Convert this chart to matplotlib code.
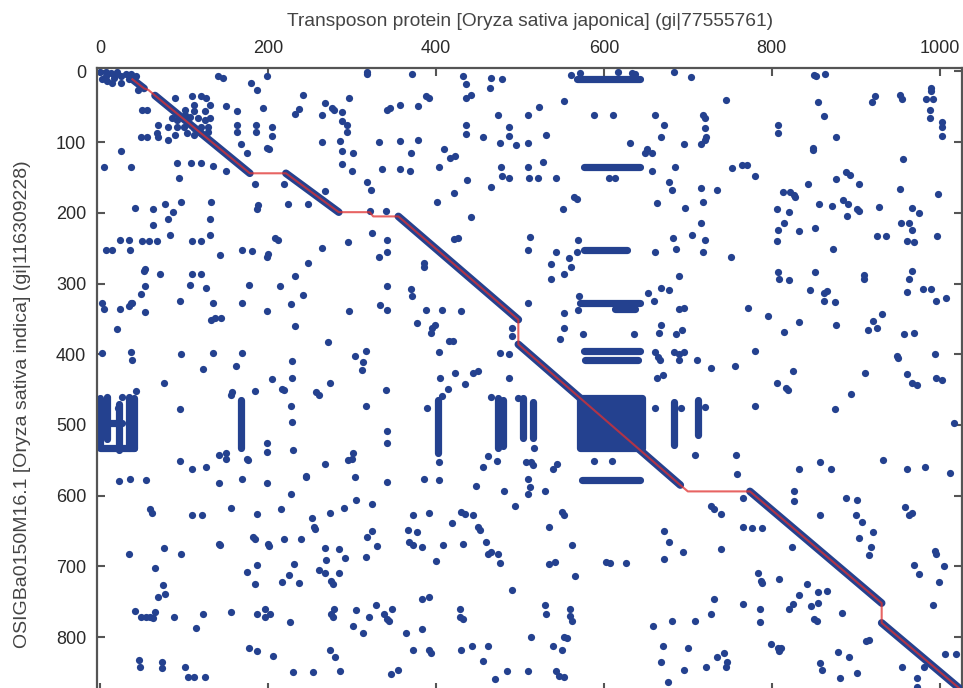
import matplotlib.pyplot as plt

# alignment path (red line), positions in residues
path_x = [38, 52, 57, 65, 178, 221, 284, 321, 325, 355, 498, 498, 691, 700, 774, 931, 931, 1024]
path_y = [11, 24, 26, 34, 144, 144, 199, 199, 205, 205, 351, 386, 585, 594, 594, 752, 780, 873]

# diagonal match stretches under the path: (x1, y1, x2, y2)
diag_runs = [(38, 11, 52, 24), (65, 34, 178, 144), (221, 144, 284, 199), (355, 205, 498, 351),
             (498, 386, 691, 585), (774, 594, 931, 752), (931, 780, 1024, 873)]

# dense repeat runs: horizontal (x1, x2, y) and vertical (x, y1, y2)
h_runs = [(568, 643, 11), (576, 643, 135), (576, 627, 253), (572, 643, 327), (613, 637, 336),
          (576, 643, 396), (578, 641, 408), (574, 643, 578), (0, 40, 533), (0, 26, 497)]
v_runs = [(0, 462, 530), (8, 462, 520), (22, 470, 535), (34, 460, 533), (40, 462, 533),
          (168, 465, 533), (402, 465, 540), (474, 462, 533), (480, 465, 530), (503, 462, 519),
          (516, 467, 519), (684, 467, 529), (712, 465, 514)]
block = (572, 645, 462, 533)

dots_a = [(0, 1), (6, 1), (12, 2), (18, 4), (24, 7), (30, 4), (36, 4), (42, 7), (2, 11), (8, 14), (14, 16),
          (24, 16), (34, 11), (40, 9), (20, 1), (16, 9), (6, 7), (140, 7), (146, 9), (179, 16), (187, 26),
          (198, 7), (241, 33), (45, 26), (89, 37), (109, 35), (120, 35), (126, 37), (111, 47), (130, 47),
          (149, 49), (50, 54), (56, 54), (101, 54), (112, 56), (124, 56), (85, 66), (91, 68), (101, 61),
          (107, 64), (116, 66), (124, 68), (130, 66), (69, 75), (81, 78), (91, 78), (99, 78), (111, 80),
          (120, 78), (128, 78), (67, 87), (89, 90), (103, 87), (112, 90), (120, 87), (128, 85), (69, 92),
          (81, 97), (48, 92), (56, 92), (163, 56), (194, 52), (232, 60), (236, 53), (163, 75), (163, 85),
          (185, 75), (185, 86), (204, 79), (204, 91), (167, 102), (198, 108), (201, 110), (175, 116),
          (24, 113), (4, 135), (36, 135), (91, 130), (108, 129), (120, 129), (134, 133), (149, 141),
          (93, 151), (184, 159), (219, 159), (223, 188), (247, 188), (41, 193), (63, 195), (77, 188),
          (87, 199), (96, 185), (132, 185), (188, 189), (186, 195), (81, 208), (131, 208), (62, 217),
          (83, 231), (130, 231), (23, 238), (34, 238), (50, 240), (58, 240), (67, 240), (109, 240),
          (120, 240), (208, 236), (212, 239), (6, 252), (14, 252), (35, 252), (143, 259), (169, 253),
          (180, 254), (200, 258), (198, 263), (247, 271), (53, 280)]

dots_b = [(318, 1), (318, 4), (371, 4), (432, 7), (436, 18), (466, 9), (478, 11), (464, 23), (296, 37),
          (268, 44), (276, 52), (278, 54), (288, 58), (264, 61), (288, 70), (294, 75), (294, 86), (341, 54),
          (345, 52), (357, 48), (379, 49), (388, 35), (392, 38), (436, 38), (442, 33), (436, 76), (436, 89),
          (456, 93), (474, 62), (487, 79), (487, 91), (476, 101), (495, 104), (264, 100), (286, 99),
          (288, 112), (301, 116), (332, 100), (357, 98), (379, 97), (370, 116), (409, 109), (417, 122),
          (423, 120), (288, 131), (300, 141), (335, 138), (357, 138), (369, 141), (403, 135), (437, 154),
          (477, 135), (479, 148), (487, 150), (466, 163), (268, 169), (318, 157), (322, 168), (401, 185),
          (421, 172), (321, 197), (340, 198), (441, 206), (324, 229), (342, 239), (342, 256), (332, 263),
          (295, 241), (264, 250), (421, 237), (426, 236), (386, 271), (386, 277)]

dots_c = [(561, 5), (572, 2), (617, 1), (633, 2), (637, 4), (684, 1), (704, 8), (523, 50), (552, 42),
          (509, 62), (588, 62), (611, 62), (661, 62), (671, 75), (718, 62), (721, 66), (721, 80), (722, 92),
          (720, 97), (716, 103), (745, 40), (531, 90), (509, 101), (631, 101), (668, 93), (696, 103),
          (651, 109), (649, 116), (657, 116), (527, 128), (509, 135), (511, 150), (521, 150), (543, 150),
          (606, 150), (613, 150), (657, 141), (685, 135), (753, 137), (765, 132), (678, 156), (681, 167),
          (716, 165), (735, 167), (564, 177), (568, 181), (551, 194), (663, 186), (697, 193), (718, 185),
          (716, 214), (512, 234), (569, 239), (682, 236), (705, 231), (720, 239), (509, 253), (543, 255),
          (568, 256), (661, 255), (686, 251), (718, 255), (751, 263), (558, 264), (561, 277), (537, 273)]

dots_d = [(850, 5), (853, 7), (863, 4), (990, 23), (990, 28), (984, 39), (992, 39), (989, 54), (989, 66),
          (1003, 71), (1003, 78), (1003, 91), (953, 33), (955, 39), (923, 35), (919, 43), (855, 43),
          (862, 63), (808, 75), (808, 87), (876, 93), (849, 108), (849, 111), (956, 124), (770, 132),
          (780, 148), (888, 142), (893, 146), (877, 152), (904, 159), (843, 159), (813, 171), (822, 171),
          (827, 175), (828, 177), (953, 166), (998, 174), (806, 194), (820, 199), (815, 214), (808, 224),
          (806, 240), (833, 226), (851, 221), (856, 188), (872, 190), (885, 182), (891, 188), (890, 204),
          (902, 195), (904, 197), (928, 191), (967, 193), (976, 200), (954, 214), (964, 215), (967, 224),
          (926, 233), (936, 233), (961, 240), (969, 241), (997, 233), (873, 251)]

dots_e = [(52, 282), (71, 287), (109, 287), (120, 287), (232, 289), (53, 303), (48, 315), (107, 302),
          (126, 306), (177, 302), (214, 303), (241, 316), (2, 327), (4, 336), (23, 336), (34, 332), (36, 327),
          (38, 327), (53, 340), (95, 324), (134, 327), (136, 348), (132, 351), (144, 348), (169, 328),
          (199, 339), (227, 329), (232, 360), (20, 364), (2, 398), (36, 397), (38, 408), (96, 399),
          (134, 398), (169, 398), (122, 421), (161, 416), (228, 409), (204, 435), (228, 434), (76, 441),
          (216, 449), (219, 451), (155, 457), (157, 454), (184, 452), (42, 452), (95, 477), (227, 473),
          (228, 496), (199, 526), (199, 538), (229, 536), (141, 542), (150, 540), (150, 548), (175, 548),
          (176, 550), (95, 551), (109, 562), (126, 560), (245, 572), (26, 461), (21, 476), (8, 461)]

dots_f = [(342, 303), (370, 308), (371, 318), (296, 339), (333, 330), (342, 338), (388, 338), (407, 338),
          (430, 339), (377, 356), (399, 358), (395, 363), (394, 370), (491, 363), (491, 374), (271, 383),
          (303, 402), (316, 395), (313, 411), (312, 422), (415, 381), (420, 381), (403, 397), (476, 398),
          (487, 400), (423, 427), (444, 427), (450, 423), (405, 433), (487, 434), (435, 442), (414, 449),
          (274, 441), (257, 453), (260, 457), (340, 451), (317, 473), (389, 476), (407, 459), (466, 461),
          (498, 462), (341, 509), (341, 525), (301, 540), (300, 548), (295, 550), (267, 555), (403, 553),
          (462, 544), (456, 560), (472, 551), (507, 552)]

dots_g = [(537, 294), (552, 287), (689, 289), (509, 328), (570, 318), (569, 338), (552, 341), (653, 313),
          (660, 324), (668, 306), (678, 309), (689, 336), (695, 335), (552, 363), (548, 378), (575, 372),
          (636, 372), (668, 359), (666, 370), (686, 372), (693, 366), (661, 397), (664, 404), (667, 408),
          (683, 397), (689, 400), (690, 408), (696, 397), (711, 408), (727, 420), (756, 416), (663, 434),
          (670, 429), (661, 476), (720, 475), (692, 476), (709, 542), (757, 543), (758, 569), (588, 551),
          (610, 551), (539, 562), (544, 555), (513, 552), (515, 556), (517, 533)]

dots_h = [(807, 284), (809, 294), (821, 295), (851, 284), (910, 288), (910, 294), (963, 294), (967, 282),
          (961, 312), (980, 307), (990, 308), (996, 325), (1008, 321), (846, 309), (862, 313), (866, 311),
          (862, 325), (875, 326), (772, 334), (796, 346), (832, 355), (815, 369), (877, 359), (921, 353),
          (925, 363), (915, 366), (931, 343), (958, 371), (969, 370), (780, 396), (949, 403), (951, 405),
          (995, 400), (825, 423), (911, 427), (806, 440), (817, 448), (819, 450), (961, 428), (967, 440),
          (973, 444), (996, 433), (1003, 436), (895, 456), (780, 473), (875, 477), (1017, 497), (832, 563),
          (857, 553), (871, 563), (933, 550), (961, 562), (983, 560), (1012, 568)]

dots_i = [(22, 579), (35, 577), (54, 578), (141, 582), (169, 577), (198, 582), (245, 574), (227, 598),
          (59, 619), (61, 624), (109, 627), (121, 627), (156, 617), (186, 626), (215, 619), (182, 659),
          (184, 661), (200, 668), (201, 671), (219, 661), (239, 661), (141, 668), (143, 670), (34, 682),
          (76, 674), (96, 682), (65, 703), (75, 726), (77, 739), (69, 744), (175, 708), (187, 698),
          (184, 725), (231, 697), (225, 712), (216, 722), (237, 724), (41, 763), (48, 772), (54, 772),
          (59, 772), (62, 773), (65, 765), (88, 771), (114, 787), (122, 767), (156, 764), (186, 767),
          (196, 760), (196, 771), (202, 767), (226, 779), (177, 816), (187, 820), (206, 827), (46, 832),
          (47, 842), (73, 835), (73, 844), (101, 842), (104, 856), (112, 856), (124, 856), (229, 849)]

dots_j = [(303, 574), (342, 581), (386, 576), (403, 578), (448, 586), (481, 594), (494, 614), (305, 606),
          (324, 612), (273, 624), (290, 618), (252, 631), (255, 645), (256, 647), (323, 650), (318, 658),
          (330, 671), (267, 674), (284, 676), (269, 691), (292, 688), (261, 705), (268, 710), (284, 710),
          (275, 721), (277, 725), (316, 687), (373, 627), (391, 625), (366, 649), (377, 651), (368, 666),
          (372, 670), (383, 672), (400, 692), (408, 670), (419, 639), (430, 623), (435, 626), (444, 627),
          (432, 669), (450, 645), (452, 649), (459, 665), (462, 682), (465, 680), (474, 682), (476, 695),
          (491, 733), (383, 746), (392, 743), (278, 760), (275, 768), (277, 771), (305, 762), (320, 771),
          (328, 755), (338, 768), (341, 774), (344, 778), (347, 760), (301, 785), (313, 794), (364, 794),
          (383, 788), (428, 761), (428, 772), (432, 775), (273, 818), (280, 828), (373, 819), (391, 819),
          (394, 822), (430, 818), (443, 813), (462, 812), (456, 834), (253, 850), (285, 848), (346, 852),
          (355, 846), (470, 860), (485, 848)]

dots_k = [(509, 576), (512, 588), (509, 598), (530, 594), (550, 623), (552, 627), (534, 644), (562, 670),
          (535, 697), (542, 694), (565, 714), (603, 694), (607, 695), (626, 695), (672, 650), (678, 665),
          (694, 680), (672, 690), (727, 615), (731, 619), (739, 626), (740, 676), (530, 754), (531, 767),
          (560, 760), (560, 770), (562, 777), (513, 800), (539, 812), (550, 819), (553, 800), (556, 802),
          (510, 848), (543, 848), (546, 855), (553, 857), (658, 785), (681, 777), (709, 778), (731, 746),
          (727, 767), (670, 812), (700, 816), (668, 835), (735, 828), (743, 823), (747, 836), (746, 843),
          (695, 846), (722, 843), (676, 863)]

dots_l = [(766, 603), (766, 645), (776, 646), (788, 646), (827, 594), (827, 608), (889, 603), (901, 606),
          (900, 627), (908, 637), (857, 627), (921, 651), (904, 660), (918, 673), (916, 684), (824, 672),
          (959, 616), (963, 627), (967, 625), (994, 679), (996, 682), (969, 698), (976, 711), (1005, 700),
          (999, 722), (992, 754), (784, 709), (787, 721), (788, 723), (809, 718), (842, 725), (833, 741),
          (855, 737), (866, 735), (855, 752), (847, 756), (825, 753), (820, 760), (766, 753), (786, 760),
          (786, 779), (850, 774), (854, 777), (884, 766), (799, 810), (807, 815), (809, 820), (811, 815),
          (858, 837), (860, 846), (879, 821), (892, 828), (881, 858), (902, 851), (912, 805), (916, 804),
          (955, 843), (982, 842), (973, 858), (973, 870), (1006, 824), (1020, 824)]

x_ticks = [0, 200, 400, 600, 800, 1000]
y_ticks = [0, 100, 200, 300, 400, 500, 600, 700, 800]

BLUE = "#24418f"
RED = "#e0302f"
DOT = 5.2  # marker diameter in points

plt.rcParams["font.family"] = ["Liberation Sans", "DejaVu Sans"]

fig = plt.figure(figsize=(9.63, 6.88), dpi=100)
ax = fig.add_axes([0.1012, -0.004, 0.898, 0.9045])

all_dots = dots_a + dots_b + dots_c + dots_d + dots_e + dots_f + dots_g + dots_h + dots_i + dots_j + dots_k + dots_l
ax.scatter([p[0] for p in all_dots], [p[1] for p in all_dots], s=DOT ** 2, c=BLUE, linewidths=0, zorder=2)

for x1, x2, y in h_runs:
    ax.plot([x1, x2], [y, y], color=BLUE, lw=DOT, solid_capstyle="round", zorder=2)
for x, y1, y2 in v_runs:
    ax.plot([x, x], [y1, y2], color=BLUE, lw=DOT, solid_capstyle="round", zorder=2)

bx0, bx1, by0, by1 = block
ax.fill([bx0, bx1, bx1, bx0], [by0, by0, by1, by1], facecolor=BLUE, edgecolor=BLUE,
        lw=DOT, joinstyle="round", zorder=2)

for x1, y1, x2, y2 in diag_runs:
    ax.plot([x1, x2], [y1, y2], color=BLUE, lw=5.5, solid_capstyle="round", zorder=3)

ax.plot(path_x, path_y, color=RED, lw=1.5, alpha=0.75, zorder=4)

ax.set_xlim(-3.6, 1027)
ax.set_ylim(876, -4.3)
ax.set_xticks(x_ticks)
ax.set_yticks(y_ticks)

ax.xaxis.tick_top()
ax.xaxis.set_label_position("top")
ax.tick_params(direction="in", length=6, width=1.5, color="#555555", labelsize=13,
               labelcolor="#2a2a2a", top=True, bottom=True, left=True, right=True,
               labeltop=True, labelbottom=False, pad=8)
for sp in ax.spines.values():
    sp.set_color("#555555")
    sp.set_linewidth(1.6)

ax.set_xlabel("Transposon protein [Oryza sativa japonica] (gi|77555761)", fontsize=13.8,
              color="#444444", labelpad=10)
ax.set_ylabel("OSIGBa0150M16.1 [Oryza sativa indica] (gi|116309228)", fontsize=14,
              color="#444444")
# the source image is cropped at the bottom, so the label sits lower than the visible middle
ax.yaxis.set_label_coords(-0.077, 0.46)

fig.savefig("out.png", dpi=100)
